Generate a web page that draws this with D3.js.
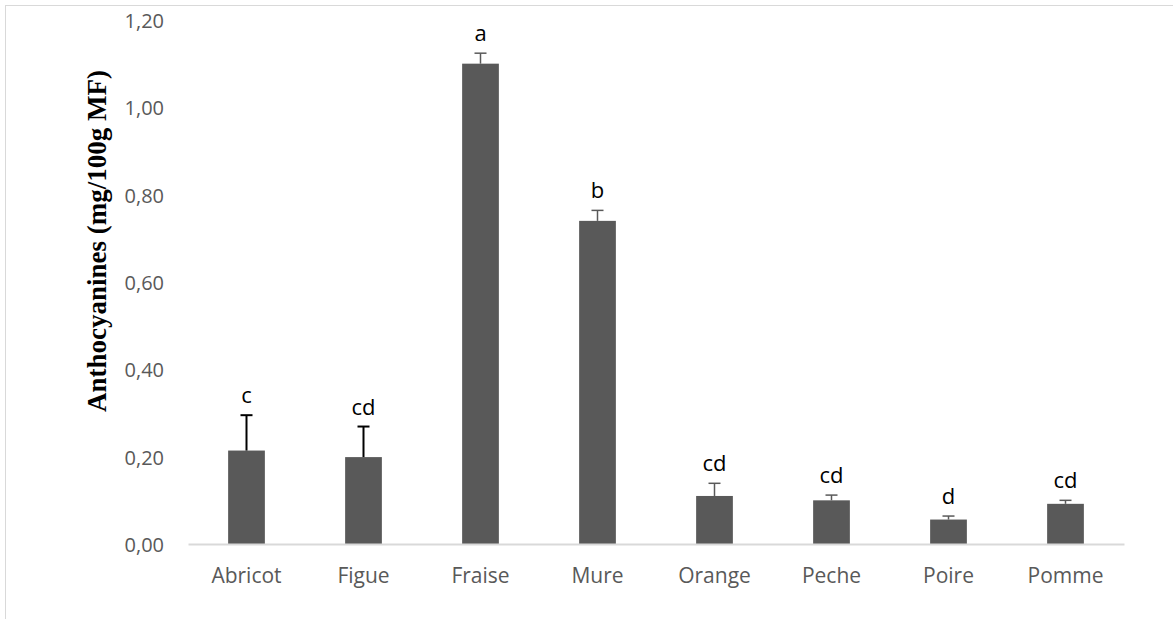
<!DOCTYPE html>
<html>
<head>
<meta charset="utf-8">
<script src="https://cdn.jsdelivr.net/npm/d3@7"></script>
<style>
  html, body { margin: 0; padding: 0; background: #fff; }
  svg { display: block; }
</style>
</head>
<body>
<svg id="chart" width="1173" height="619"></svg>
<script>
// Anthocyanin content per fruit (mg/100g fresh matter)
const fruits = ["Abricot", "Figue", "Fraise", "Mure", "Orange", "Peche", "Poire", "Pomme"];
const means = [0.214, 0.199, 1.100, 0.740, 0.110, 0.100, 0.056, 0.092];
const errors = [0.081, 0.070, 0.024, 0.024, 0.029, 0.012, 0.008, 0.008];
const groups = ["c", "cd", "a", "b", "cd", "cd", "d", "cd"];
const yTicks = [0, 0.2, 0.4, 0.6, 0.8, 1.0, 1.2];

const rows = fruits.map((f, i) => ({ fruit: f, mean: means[i], err: errors[i], group: groups[i], i }));

const svg = d3.select("#chart");
const W = 1173, H = 619;
const margin = { left: 188, right: 49, top: 20, bottom: 75 };

// Outer frame
svg.append("rect")
  .attr("x", 5.5).attr("y", 5.5)
  .attr("width", W + 20).attr("height", H + 20)
  .attr("fill", "none").attr("stroke", "#d9d9d9").attr("stroke-width", 1);

const x = d3.scaleBand()
  .domain(fruits)
  .range([margin.left, W - margin.right])
  .paddingInner(0.686).paddingOuter(0.343);

const y = d3.scaleLinear()
  .domain([0, 1.2])
  .range([H - margin.bottom, margin.top]);

const fmt = v => d3.format(".2f")(v).replace(".", ",");

// Y axis tick labels only (no axis line, no grid)
const yAxis = svg.append("g")
  .attr("transform", `translate(${margin.left},0)`)
  .call(d3.axisLeft(y).tickValues(yTicks).tickFormat(fmt).tickSize(0).tickPadding(24));
yAxis.select(".domain").remove();
yAxis.selectAll("text")
  .attr("font-family", "'Open Sans', sans-serif")
  .attr("font-size", 20)
  .attr("dy", "0.38em")
  .attr("fill", "#595959");

// Bars
svg.append("g").selectAll("rect")
  .data(rows)
  .join("rect")
  .attr("x", d => x(d.fruit))
  .attr("y", d => y(d.mean))
  .attr("width", x.bandwidth())
  .attr("height", d => y(0) - y(d.mean))
  .attr("fill", "#595959");

// Error bars (positive direction)
const eb = svg.append("g").selectAll("g")
  .data(rows)
  .join("g")
  .attr("stroke", d => d.i < 2 ? "#000" : "#595959")
  .attr("stroke-width", d => d.i < 2 ? 2 : 1.5);
eb.append("line")
  .attr("x1", d => x(d.fruit) + x.bandwidth() / 2)
  .attr("x2", d => x(d.fruit) + x.bandwidth() / 2)
  .attr("y1", d => y(d.mean))
  .attr("y2", d => y(d.mean + d.err));
eb.append("line")
  .attr("x1", d => x(d.fruit) + x.bandwidth() / 2 - 6)
  .attr("x2", d => x(d.fruit) + x.bandwidth() / 2 + 6)
  .attr("y1", d => y(d.mean + d.err))
  .attr("y2", d => y(d.mean + d.err));

// X axis
const xAxis = svg.append("g")
  .attr("transform", `translate(0,${y(0)})`)
  .call(d3.axisBottom(x).tickSize(0).tickPadding(24));
xAxis.select(".domain")
  .attr("stroke", "#d9d9d9").attr("stroke-width", 2);
xAxis.selectAll("text")
  .attr("font-family", "'Open Sans', sans-serif")
  .attr("font-size", 21)
  .attr("fill", "#595959");

// Significance letters
svg.append("g").selectAll("text")
  .data(rows)
  .join("text")
  .attr("x", d => x(d.fruit) + x.bandwidth() / 2)
  .attr("y", d => y(d.mean + d.err) - 12)
  .attr("text-anchor", "middle")
  .attr("font-family", "'Open Sans', sans-serif")
  .attr("font-size", 22)
  .attr("fill", "#000")
  .text(d => d.group);

// Y axis title
svg.append("text")
  .attr("transform", "translate(106,241) rotate(-90)")
  .attr("text-anchor", "middle")
  .attr("font-family", "'Liberation Serif', 'Times New Roman', serif")
  .attr("font-weight", "bold")
  .attr("font-size", 27)
  .attr("fill", "#000")
  .text("Anthocyanines (mg/100g MF)");
</script>
</body>
</html>
